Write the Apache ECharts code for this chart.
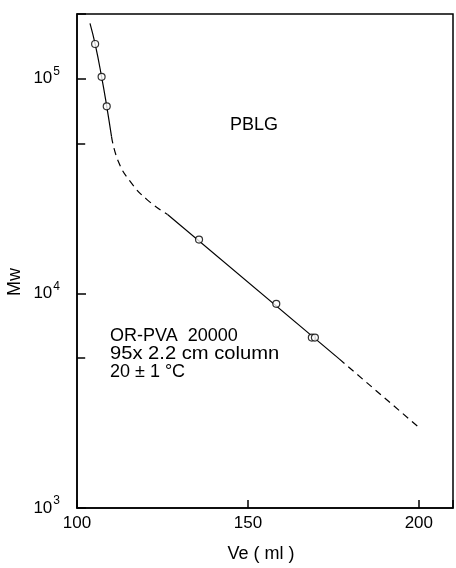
<html>
<head>
  <meta charset="utf-8" />
  <script src="https://cdn.jsdelivr.net/npm/echarts@6/dist/echarts.min.js"></script>
  <style>
    html, body { margin: 0; padding: 0; background: #fff; }
    #chart { width: 456px; height: 568px; }
  </style>
</head>
<body>
  <div id="chart"></div>
  <script>
    // data (Ve in ml, Mw)
    var pointVe = [105.3, 107.2, 108.7, 135.7, 158.3, 168.7, 169.6];
    var pointMw = [145000, 102000, 74300, 17800, 8930, 6220, 6220];

    var topVe = [103.8, 105.3, 107.2, 108.7, 110.1];
    var topMw = [181000, 145000, 102000, 74300, 53700];
    var bendVe = [110.1, 112.1, 115.5, 120.4, 126.5];
    var bendMw = [53700, 41100, 33300, 27400, 23300];
    var lineVe = [126.5, 176.7];
    var lineMw = [23300, 4950];
    var tailVe = [176.7, 200.2];
    var tailMw = [4950, 2360];

    var xTicks = [100, 150, 200];
    var yMinorTicks = [5000, 50000];

    var font = 'Liberation Sans, DejaVu Sans, sans-serif';

    function pairs(xs, ys) {
      return xs.map(function (x, i) { return [x, ys[i]]; });
    }

    var chart = echarts.init(document.getElementById('chart'));

    var lineBase = { type: 'line', symbol: 'none', silent: true, animation: false };

    var option = {
      animation: false,
      grid: { left: 77, top: 14, right: 0.5, bottom: 56, show: true, borderColor: '#000', borderWidth: 1.5 },
      xAxis: {
        type: 'value', min: 100, max: 210, interval: 50,
        name: 'Ve ( ml )', nameLocation: 'middle', nameGap: 37,
        nameTextStyle: { fontFamily: font, fontSize: 18, color: '#000', padding: [0, 8, 0, 0] },
        axisLine: { lineStyle: { color: '#000', width: 1.5 } },
        axisTick: { inside: true, length: 8, lineStyle: { color: '#000', width: 1.5 } },
        axisLabel: {
          margin: 7, fontFamily: font, fontSize: 17, color: '#000',
          formatter: function (v) { return xTicks.indexOf(v) >= 0 ? String(v) : ''; }
        },
        splitLine: { show: false }
      },
      yAxis: {
        type: 'log', logBase: 10, min: 1000, max: 200000,
        axisLine: { lineStyle: { color: '#000', width: 1.5 } },
        axisTick: { inside: true, length: 9, lineStyle: { color: '#000', width: 1.5 } },
        axisLabel: {
          margin: 17, fontFamily: font, fontSize: 17, color: '#000',
          formatter: function (v) {
            var p = Math.log10(v);
            if (Math.abs(p - Math.round(p)) > 1e-6) return '';
            return '{b|10}{s|' + Math.round(p) + '}';
          },
          rich: {
            b: { fontFamily: font, fontSize: 17, color: '#000' },
            s: { fontFamily: font, fontSize: 12, color: '#000', verticalAlign: 'bottom', padding: [0, 0, 14, 1] }
          }
        },
        splitLine: { show: false }
      },
      series: [
        Object.assign({}, lineBase, {
          data: pairs(topVe, topMw), smooth: true,
          lineStyle: { color: '#000', width: 1.2 },
          markLine: {
            silent: true, symbol: 'none', label: { show: false },
            lineStyle: { color: '#000', width: 1.5, type: 'solid' },
            data: yMinorTicks.map(function (v) { return [{ coord: [100, v] }, { coord: [102.4, v] }]; })
          }
        }),
        Object.assign({}, lineBase, {
          data: pairs(bendVe, bendMw), smooth: true,
          lineStyle: { color: '#000', width: 1.2, type: [7, 5] }
        }),
        Object.assign({}, lineBase, {
          data: pairs(lineVe, lineMw),
          lineStyle: { color: '#000', width: 1.2 }
        }),
        Object.assign({}, lineBase, {
          data: pairs(tailVe, tailMw),
          lineStyle: { color: '#000', width: 1.2, type: [7, 5] }
        }),
        {
          type: 'scatter', data: pairs(pointVe, pointMw), symbol: 'circle', symbolSize: 7,
          itemStyle: { color: '#fff', borderColor: '#000', borderWidth: 1.2 }, z: 5
        }
      ],
      graphic: [
        {
          type: 'text', x: 15, y: 282, rotation: Math.PI / 2,
          style: { text: 'Mw', font: '18px ' + font, fill: '#000', align: 'center', verticalAlign: 'middle' }
        },
        {
          type: 'text', x: 230, y: 125,
          style: { text: 'PBLG', font: '18px ' + font, fill: '#000', verticalAlign: 'middle' }
        },
        {
          type: 'text', x: 110, y: 336,
          style: { text: 'OR-PVA  20000', font: '18px ' + font, fill: '#000', verticalAlign: 'middle' }
        },
        {
          type: 'text', x: 110, y: 354, scaleX: 1.12,
          style: { text: '95x 2.2 cm column', font: '18px ' + font, fill: '#000', verticalAlign: 'middle' }
        },
        {
          type: 'text', x: 110, y: 372,
          style: { text: '20 \u00b1 1 \u00b0C', font: '18px ' + font, fill: '#000', verticalAlign: 'middle' }
        }
      ]
    };

    chart.setOption(option);
  </script>
</body>
</html>
